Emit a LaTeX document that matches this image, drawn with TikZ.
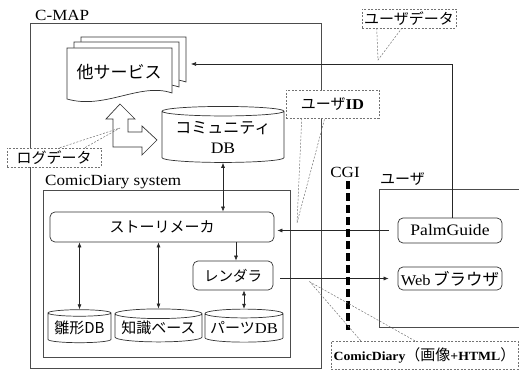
\documentclass[tikz,border=0pt]{standalone}
\usepackage{fontspec}
\newfontfamily\jp{Noto Sans CJK JP}
\newfontfamily\lat[FakeStretch=1.1]{Liberation Serif}
\usetikzlibrary{shapes.geometric,arrows.meta}

\begin{document}
\begin{tikzpicture}[
    x = 1pt,
    y = -1pt,
    >={Latex[length=5pt,width=4pt]},
    font=\jp\fontsize{15}{17}\selectfont,
    frame/.style = {draw=black!70, line width=0.9pt},
    lbl/.style = {font=\lat\fontsize{15.5}{17}\selectfont, inner sep=0pt},
    docline/.style = {draw=black!80, fill=white, line width=0.7pt},
    rbox/.style = {draw=black!80, rounded corners=5pt, fill=white,
    inner sep=0pt, line width=0.7pt},
    db/.style = {cylinder, shape border rotate=90, draw=black!80, fill=white,
    inner sep=0pt, aspect=0.13, line width=0.7pt},
    link/.style = {draw=black!85, line width=0.6pt},
    callout/.style = {draw=black!55, dash pattern=on 2pt off 1.5pt, fill=white,
    inner sep=0pt, line width=0.5pt},
    pointer/.style = {draw=black!55, dash pattern=on 2pt off 1.5pt, line width=0.5pt},
    cgiline/.style = {line width=3.2pt, dash pattern=on 8pt off 4pt},
]

\clip (0,0) rectangle (519,371);

% frames
\draw[frame] (30,23) rectangle (321,368);
\node[lbl, anchor=base west] (cmap) at (35,21) {C-MAP};
\draw[frame] (43,190) rectangle (290,357);
\node[lbl, anchor=base west] (sys) at (45,186) {ComicDiary system};
\draw[frame] (530,189) -- (379,189) -- (379,327) -- (530,327);
\node[anchor=base west, inner sep=0pt] (user) at (380,185) {ユーザ};

% other services
\foreach \dx/\dy in {14/-11, 7/-6, 0/0}
  \draw[docline, shift={(\dx,\dy)}] (67,48) -- (172,48) -- (172,93)
    .. controls (140,82) and (105,110) .. (67,99) -- cycle;
\node[font=\jp\fontsize{17}{19}\selectfont] (svc) at (119,72) {他サービス};
\coordinate (svcin) at (191,64);

\draw[docline] (120,104) -- (135,119) -- (128,119) -- (128,132) -- (142,132)
  -- (142,126) -- (157,140) -- (142,155) -- (142,147) -- (113,147)
  -- (113,119) -- (106,119) -- cycle;

% comic diary system
\node[db, aspect=0.1, minimum width=122pt, minimum height=56pt, align=center,
  font=\jp\fontsize{16}{20}\selectfont] (cdb) at (223,137) {コミュニティ\\{\lat DB}};
\node[rbox, minimum width=224pt, minimum height=30pt] (story) at (162,227) {ストーリメーカ};
\node[rbox, minimum width=80pt, minimum height=29pt,
  font=\jp\fontsize{14.5}{17}\selectfont] (render) at (233,275.5) {レンダラ};
\node[db, minimum width=63pt, minimum height=33pt] (hina) at (79.5,328) {雛形DB};
\node[db, minimum width=87pt, minimum height=33pt] (know) at (158.5,328) {知識ベース};
\node[db, minimum width=78pt, minimum height=33pt] (parts) at (244,328) {パーツ{\lat DB}};

% user side
\node[rbox, minimum width=104pt, minimum height=25pt,
  font=\lat\fontsize{16}{18}\selectfont] (palm) at (450,230.5) {PalmGuide};
\node[rbox, minimum width=104pt, minimum height=23pt] (web) at (450,278.5)
  {{\lat\fontsize{15}{17}\selectfont Web}\,{\fontsize{16.5}{19}\selectfont ブラウザ}};

\draw[link, <->] (cdb.south) -- (cdb.south |- story.north);
\draw[link, ->] ([xshift=3pt]render.north |- story.south) -- ([xshift=3pt]render.north);
\draw[link, <->] (hina.north |- story.south) -- (hina.north);
\draw[link, <->] (know.north |- story.south) -- (know.north);
\draw[link, <->] (parts.north |- render.south) -- (parts.north);
\draw[link, ->, shorten <=9pt, shorten >=3pt] (palm.west) -- (palm.west -| story.east);
\draw[link, ->, shorten <=7pt, shorten >=9pt] (render.east |- web.west) -- (web.west);
\draw[link, ->] ([xshift=2pt]palm.north) |- (svcin);

% CGI
\node[lbl, anchor=base] (cgi) at (345,178) {CGI};
\coordinate (cgiend) at (348,330);
\draw[cgiline, shorten <=3pt] (cgi.south -| cgiend) -- (cgiend);

% callouts
\node[callout, minimum width=94pt, minimum height=19pt] (udata) at (409,18.5) {ユーザデータ};
\coordinate (udtip) at (378,60);
\draw[pointer] ([xshift=15pt]udata.south west) -- (udtip) -- ([xshift=40pt]udata.south west);

\node[callout, minimum width=93pt, minimum height=28pt] (uid) at (332.5,104)
  {ユーザ{\lat\bfseries ID}};
\coordinate (uidtip) at (297,223);
\draw[pointer] ([xshift=16pt]uid.south west) -- (uidtip) -- ([xshift=39pt]uid.south west);

\node[callout, minimum width=94pt, minimum height=19pt] (log) at (54,157.5) {ログデータ};
\coordinate (logtip) at (120,128);
\draw[pointer] ([xshift=53pt]log.north west) -- (logtip) -- ([xshift=78pt]log.north west);

\node[callout, minimum width=187pt, minimum height=28pt] (cdout) at (424.5,355)
  {{\lat\bfseries\fontsize{12.5}{15}\selectfont ComicDiary}（画像{\lat\bfseries\fontsize{12.5}{15}\selectfont +HTML}）};
\coordinate (cdtip) at (310,282);
\draw[pointer] ([xshift=30pt]cdout.north west) -- (cdtip) -- ([xshift=84pt]cdout.north west);

\end{tikzpicture}
\end{document}
